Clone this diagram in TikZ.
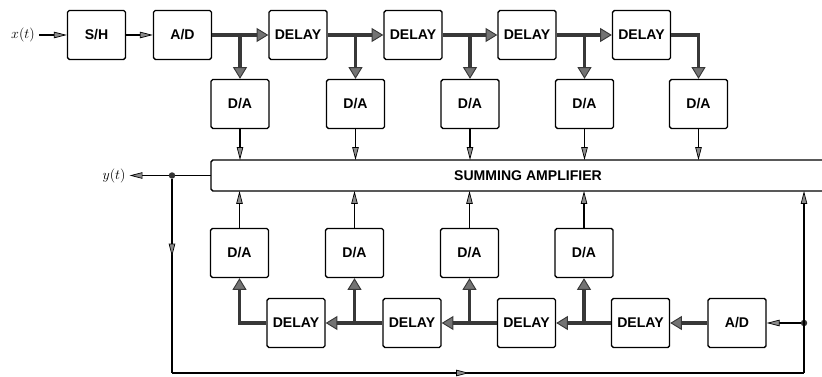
\documentclass[tikz,border=0pt]{standalone}
\usepackage{fontspec}
\setmainfont{Liberation Sans}
\usetikzlibrary{positioning,arrows.meta,calc,decorations.markings}
\tikzset{
  blockbox/.style={draw, line width=1.2pt, rounded corners=1.5pt, minimum width=1.74cm, minimum height=1.47cm, inner xsep=1pt, font=\fontsize{12}{14}\selectfont\bfseries},
  sumbox/.style={minimum width=20cm, minimum height=0.93cm, font=\fontsize{12}{14}\selectfont\bfseries},
  sumline/.style={line width=1.2pt, rounded corners=1.5pt},
  busarr/.style={line width=2.6pt, draw=black!78, -{Triangle[length=10pt,width=12pt,line width=0.8pt,fill=black!55]}},
  sigarr/.style={line width=1.1pt, -{Triangle[length=11pt,width=5.5pt,line width=0.6pt,fill=black!45]}},
  sigline/.style={line width=1.1pt},
  junction/.style={circle, fill=black!80, inner sep=0pt, minimum size=5.5pt},
  siglabel/.style={font=\fontsize{12.5}{14}\selectfont},
  midarrow/.style={postaction={decorate}, decoration={markings, mark=at position #1 with {\arrow{Triangle[length=11pt,width=5.5pt,line width=0.6pt,fill=black!45]}}}}
}
\begin{document}
\begin{tikzpicture}[x=0.03cm, y=-0.03cm]
\useasboundingbox (0,0) rectangle (822,377);
% forward path
\node[siglabel] (xin) at (23,35) {$x(t)$};
\node[blockbox] (sh) at (96.5,35) {S/H};
\node[blockbox] (adf) at (182.5,35) {A/D};
\node[blockbox] (dlf1) at (298,35) {DELAY};
\node[blockbox] (dlf2) at (413,35) {DELAY};
\node[blockbox] (dlf3) at (527,35) {DELAY};
\node[blockbox] (dlf4) at (641.5,35) {DELAY};
\node[blockbox] (daf1) at (240,104) {D/A};
\node[blockbox] (daf2) at (355.5,104) {D/A};
\node[blockbox] (daf3) at (470,104) {D/A};
\node[blockbox] (daf4) at (584.5,104) {D/A};
\node[blockbox] (daf5) at (698.5,104) {D/A};
% summing amplifier, open on the right
\node[sumbox] (sumtext) at (528,175.5) {SUMMING AMPLIFIER};
\coordinate (sumnw) at (211,160);
\coordinate (sumsw) at (211,191);
\coordinate (sumne) at (840,160);
\coordinate (sumse) at (840,191);
\draw[sumline] (sumne) -- (sumnw) -- (sumsw) -- (sumse);
% feedback path
\node[blockbox] (dab1) at (239.5,253) {D/A};
\node[blockbox] (dab2) at (354.5,253) {D/A};
\node[blockbox] (dab3) at (469.5,253) {D/A};
\node[blockbox] (dab4) at (584,253) {D/A};
\node[blockbox] (dlb1) at (296,323) {DELAY};
\node[blockbox] (dlb2) at (412,323) {DELAY};
\node[blockbox] (dlb3) at (526.5,323) {DELAY};
\node[blockbox] (dlb4) at (640.5,323) {DELAY};
\node[blockbox] (adb) at (737,323) {A/D};
\node[junction] (ydot) at (172,175.5) {};
\node[junction] (adot) at (804,323) {};
\node[siglabel] (yout) at (114,175.5) {$y(t)$};
\coordinate (fbl) at (172,373);
\coordinate (fbr) at (804,373);

% input chain
\draw[sigarr] (xin) -- (sh);
\draw[sigarr] (sh) -- (adf);
\draw[busarr] (adf) -- (dlf1);
\draw[busarr] (dlf1) -- (dlf2);
\draw[busarr] (dlf2) -- (dlf3);
\draw[busarr] (dlf3) -- (dlf4);
\draw[busarr] (adf.east -| daf1.north) -- (daf1.north);
\draw[busarr] (dlf1.east -| daf2.north) -- (daf2.north);
\draw[busarr] (dlf2.east -| daf3.north) -- (daf3.north);
\draw[busarr] (dlf3.east -| daf4.north) -- (daf4.north);
\draw[busarr] (dlf4.east) -| (daf5.north);
\foreach \k in {1,...,5}
  \draw[sigarr] (daf\k) -- (daf\k |- sumnw);

% output and feedback chain
\draw[sigline] (sumnw |- ydot) -- (ydot);
\draw[sigarr] (ydot) -- (yout);
\draw[sigline, midarrow=0.4] (ydot) -- (fbl);
\draw[sigline, midarrow=0.47] (fbl) -- (fbr);
\draw[sigarr] (fbr) -- (fbr |- sumsw);
\draw[sigarr] (adot) -- (adb);
\draw[busarr] (adb) -- (dlb4);
\draw[busarr] (dlb4) -- (dlb3);
\draw[busarr] (dlb3) -- (dlb2);
\draw[busarr] (dlb2) -- (dlb1);
\draw[busarr] (dlb4.west -| dab4.south) -- (dab4.south);
\draw[busarr] (dlb3.west -| dab3.south) -- (dab3.south);
\draw[busarr] (dlb2.west -| dab2.south) -- (dab2.south);
\draw[busarr] (dlb1.west) -| (dab1.south);
\foreach \k in {1,...,4}
  \draw[sigarr] (dab\k) -- (dab\k |- sumsw);
\end{tikzpicture}
\end{document}
